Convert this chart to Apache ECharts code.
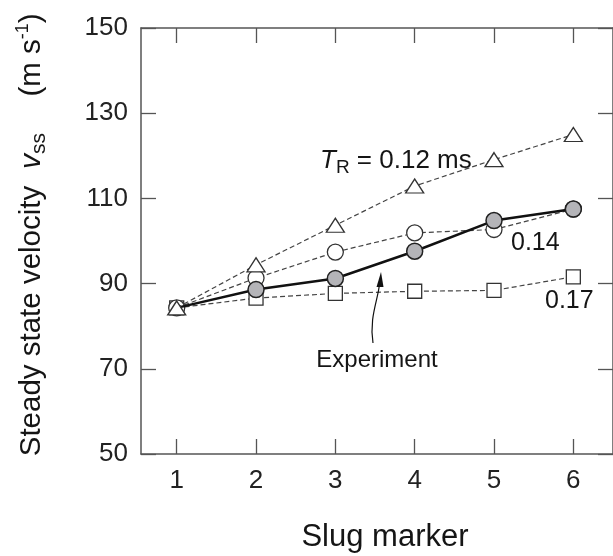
<!DOCTYPE html>
<html><head><meta charset="utf-8">
<script src="https://cdn.jsdelivr.net/npm/echarts@6/dist/echarts.min.js"></script>
<style>html,body{margin:0;padding:0;background:#fff}#c{width:613px;height:556px}</style>
</head><body><div id="c"></div>
<script>
const markers = [1, 2, 3, 4, 5, 6];
const xTicks = [1, 2, 3, 4, 5, 6];
const yTicks = [50, 70, 90, 110, 130, 150];
const tr012 = [84.3, 94.4, 103.7, 112.9, 119.1, 125.0];
const tr014 = [84.3, 91.3, 97.4, 101.9, 102.7, 107.5];
const tr017 = [84.3, 86.6, 87.7, 88.2, 88.4, 91.6];
const experiment = [84.3, 88.6, 91.2, 97.6, 104.8, 107.5];

const FONT = '"Liberation Sans", Arial, sans-serif';
const AX = '#555';
const TXT = '#151515';
const chart = echarts.init(document.getElementById('c'), null, {renderer: 'canvas'});
const pairs = arr => markers.map((m, i) => [m, arr[i]]);

const axisCommon = {
  axisLine: {show: true, lineStyle: {color: AX, width: 1.5}},
  splitLine: {show: false}
};
const xBase = {
  type: 'value', min: 0.55, max: 6.5, ...axisCommon,
  axisTick: {show: true, inside: true, length: 15, lineStyle: {color: AX, width: 1.3}, customValues: xTicks}
};
const yBase = {
  type: 'value', min: 50, max: 150, interval: 20, ...axisCommon,
  axisTick: {show: true, inside: true, length: 15, lineStyle: {color: AX, width: 1.3}}
};
const dashStyle = {color: '#444', width: 1.2, type: [5, 3]};
const openItem = {color: '#fff', borderColor: '#333', borderWidth: 1.3};
const rotText = (x, y, text, rich) => ({
  type: 'text', x: x, y: y, rotation: Math.PI / 2, z: 10,
  style: {text: text, align: 'center', verticalAlign: 'middle', fill: TXT, rich: rich}
});

chart.setOption({
  animation: false,
  grid: {left: 141, top: 28, right: -8, bottom: 102},
  xAxis: [
    {...xBase, position: 'bottom',
     axisLabel: {show: true, customValues: xTicks, fontSize: 26, color: '#222', fontFamily: FONT, margin: 14}},
    {...xBase, position: 'top', axisLabel: {show: false}}
  ],
  yAxis: [
    {...yBase, position: 'left',
     axisLabel: {show: true, fontSize: 26, color: '#222', fontFamily: FONT, margin: 13}},
    {...yBase, position: 'right', axisLabel: {show: false}}
  ],
  series: [
    {type: 'line', name: '0.17', data: pairs(tr017), z: 2, symbol: 'rect', symbolSize: 14,
     lineStyle: dashStyle, itemStyle: openItem},
    {type: 'line', name: '0.14', data: pairs(tr014), z: 3, symbol: 'circle', symbolSize: 16,
     lineStyle: dashStyle, itemStyle: openItem},
    {type: 'line', name: 'Experiment', z: 4, symbol: 'circle', symbolSize: 16,
     data: pairs(experiment).map((p, i) => i === 0 ? {value: p, symbol: 'none'} : p),
     lineStyle: {color: '#111', width: 2.5},
     itemStyle: {color: '#b4b4b8', borderColor: '#222', borderWidth: 1.5}},
    {type: 'line', name: '0.12', data: pairs(tr012), z: 5, symbol: 'triangle', symbolSize: [18, 14],
     lineStyle: dashStyle, itemStyle: openItem}
  ],
  graphic: [
    rotText(32, 321, '{a|Steady state velocity}', {
      a: {fontSize: 29.5, fontFamily: FONT, fill: TXT}}),
    rotText(32, 151, '{v|v}{sub|ss}', {
      v: {fontSize: 30, fontFamily: FONT, fontStyle: 'italic', fill: TXT, verticalAlign: 'middle', lineHeight: 36},
      sub: {fontSize: 21, fontFamily: FONT, fill: TXT, verticalAlign: 'bottom', lineHeight: 36}}),
    rotText(32, 55, '{a|(m s}{sup|-1}{a|)}', {
      a: {fontSize: 29.5, fontFamily: FONT, fill: TXT, verticalAlign: 'middle', lineHeight: 36},
      sup: {fontSize: 18, fontFamily: FONT, fill: TXT, verticalAlign: 'top', lineHeight: 36}}),
    {type: 'text', x: 385, y: 537, z: 10,
     style: {text: 'Slug marker', fontSize: 31, fontFamily: FONT, fill: TXT, align: 'center', verticalAlign: 'middle'}},
    {type: 'text', x: 320, y: 161, z: 10,
     style: {text: '{t|T}{r|R}{a| = 0.12 ms}', align: 'left', verticalAlign: 'middle',
       rich: {
         t: {fontSize: 26, fontFamily: FONT, fontStyle: 'italic', fill: TXT, verticalAlign: 'middle', lineHeight: 32},
         r: {fontSize: 19, fontFamily: FONT, fill: TXT, verticalAlign: 'bottom', lineHeight: 32},
         a: {fontSize: 26, fontFamily: FONT, fill: TXT, verticalAlign: 'middle', lineHeight: 32}
       }}},
    {type: 'text', x: 511, y: 243, z: 10,
     style: {text: '0.14', fontSize: 25, fontFamily: FONT, fill: TXT, align: 'left', verticalAlign: 'middle'}},
    {type: 'text', x: 545, y: 301, z: 10,
     style: {text: '0.17', fontSize: 25, fontFamily: FONT, fill: TXT, align: 'left', verticalAlign: 'middle'}},
    {type: 'text', x: 377, y: 360, z: 10,
     style: {text: 'Experiment', fontSize: 24, fontFamily: FONT, fill: TXT, align: 'center', verticalAlign: 'middle'}},
    {type: 'bezierCurve', z: 10,
     shape: {x1: 373, y1: 343, x2: 379.5, y2: 284, cpx1: 369, cpy1: 318, cpx2: 378, cpy2: 300},
     style: {stroke: '#111', lineWidth: 1.2, fill: null}},
    {type: 'polygon', z: 10,
     shape: {points: [[381, 272], [376.5, 287], [383.5, 287]]},
     style: {fill: '#111'}}
  ]
});
</script></body></html>
